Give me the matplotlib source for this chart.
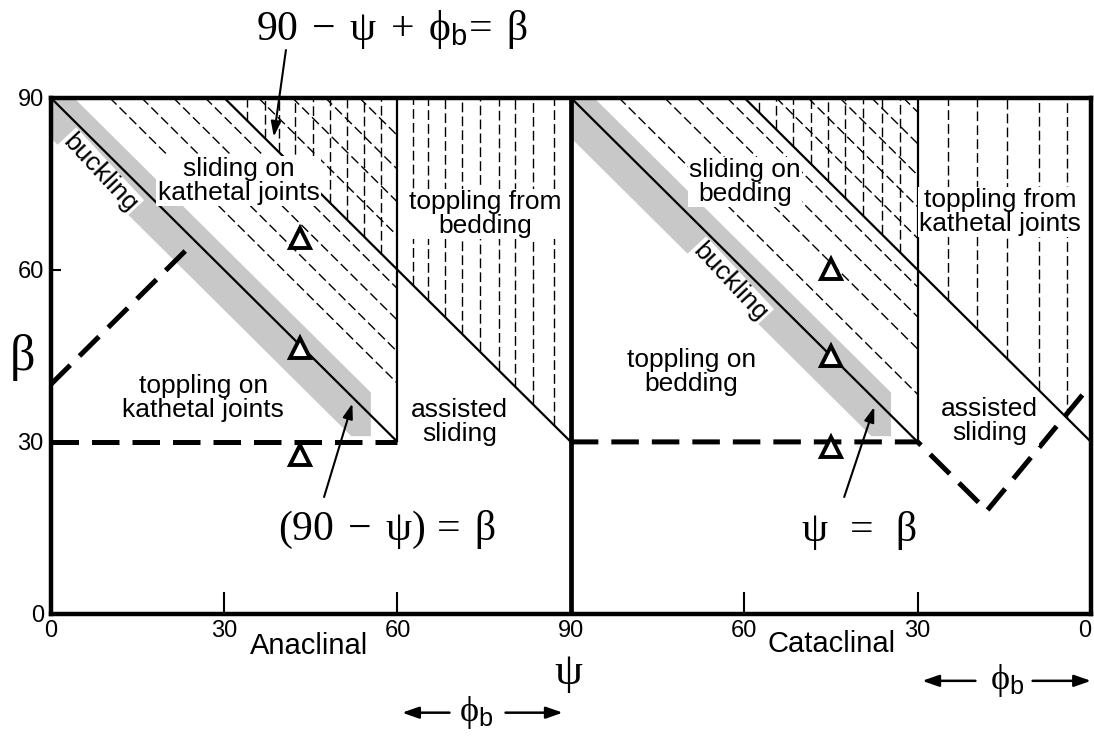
import matplotlib
matplotlib.use('Agg')
import matplotlib.pyplot as plt
from matplotlib.patches import Polygon

plt.rcParams['font.family'] = ['Liberation Sans', 'DejaVu Sans']
plt.rcParams['mathtext.fontset'] = 'custom'
plt.rcParams['mathtext.rm'] = 'Liberation Serif'
plt.rcParams['mathtext.it'] = 'Liberation Serif:italic'
plt.rcParams['mathtext.bf'] = 'Liberation Serif:bold'
plt.rcParams['mathtext.sf'] = 'Liberation Sans'
plt.rcParams['mathtext.default'] = 'rm'

# ---------------- data (angles in degrees) ----------------
PHI_B = 30
x_ticks = [0, 30, 60, 90, 120, 150, 180]
x_ticklabels = ['0', '30', '60', '90', '60', '30', '0']
y_ticks = [0, 30, 60, 90]
y_ticklabels = ['0', '30', '60', '90']

# anaclinal (left) panel, x = psi
ana_buckle_psi = [0, 60]
ana_buckle_beta = [90, 30]
ana_phib_psi = [30, 90]
ana_phib_beta = [90, 30]
ana_limit_psi = [60, 60]
ana_limit_beta = [30, 90]
ana_dash_psi = [0, 24.7]
ana_dash_beta = [40, 64.7]
ana_base_psi = [0, 60]
ana_base_beta = [30, 30]
ana_slide_offsets = [10.2, 15.7, 21.2, 26.7]
ana_cross_offsets = [35.9, 41.8, 47.5, 53.4]
ana_vert_psi = [34, 37, 39.5, 42.3, 45.3, 48.3, 51.2, 54.2, 57.2,
                62.7, 65.2, 68.2, 71.2, 74.2, 77.5, 80.4, 83.4, 87]
ana_band_psi = [0, 0, 4, 55.4, 55.4, 52]
ana_band_beta = [83, 90, 90, 38.6, 31, 31]
ana_tri_psi = [43.2, 43.2, 43.2]
ana_tri_beta = [65.6, 46.3, 27.7]

# cataclinal (right) panel, psi runs 90 -> 0
cat_buckle_psi = [90, 30]
cat_buckle_beta = [90, 30]
cat_phib_psi = [60, 0]
cat_phib_beta = [90, 30]
cat_limit_psi = [30, 30]
cat_limit_beta = [30, 90]
cat_dash_psi = [90, 30, 18, 0]
cat_dash_beta = [30, 30, 18, 40]
cat_slide_offsets = [8.3, 16.2, 21.8, 27.0]
cat_cross_offsets = [35.5, 41.0, 46.5, 52.0, 57.5]
cat_vert_psi = [57.5, 54.5, 51.5, 48.5, 45.5, 42.5, 39.5, 36.2, 33,
                24.8, 19.7, 14.5, 9, 4.2]
cat_band_psi = [90, 90, 86, 34.6, 34.6, 38]
cat_band_beta = [83, 90, 90, 38.6, 31, 31]
cat_tri_psi = [45, 45, 45]
cat_tri_beta = [60.2, 44.9, 29.1]


def cx(psis):
    """cataclinal psi -> shared x axis position"""
    return [180 - p for p in psis]


W, H = 1094, 736
fig = plt.figure(figsize=(W / 100, H / 100), dpi=100)
fig.patch.set_facecolor('white')
L, R, T, B = 50.7, 1091, 97.7, 614
ax = fig.add_axes([L / W, 1 - B / H, (R - L) / W, (B - T) / H])
ax.set_xlim(0, 180)
ax.set_ylim(0, 90)

GREY = '#c8c8c8'
HATCH = dict(color='k', lw=1.0, dashes=(7, 3), zorder=2)
SOLID = dict(color='k', lw=1.6, zorder=3, solid_capstyle='butt')
THICK = dict(color='k', lw=3.6, dashes=(5.5, 2.6), zorder=4, dash_capstyle='butt')

# grey buckling bands
ax.add_patch(Polygon(list(zip(ana_band_psi, ana_band_beta)), closed=True,
                     fc=GREY, ec='none', zorder=1))
ax.add_patch(Polygon(list(zip(cx(cat_band_psi), cat_band_beta)), closed=True,
                     fc=GREY, ec='none', zorder=1))

# anaclinal hatching
for c in ana_slide_offsets + ana_cross_offsets:
    ax.plot([c, 60], [90, 30 + c], **HATCH)
for v in ana_vert_psi:
    ax.plot([v, v], [90 + PHI_B - v, 90], **HATCH)

# cataclinal hatching
for c in cat_slide_offsets + cat_cross_offsets:
    ax.plot(cx([90 - c, 30]), [90, 30 + c], **HATCH)
for v in cat_vert_psi:
    ax.plot(cx([v, v]), [v + PHI_B, 90], **HATCH)

# boundaries
ax.plot(ana_buckle_psi, ana_buckle_beta, **SOLID)
ax.plot(ana_phib_psi, ana_phib_beta, **SOLID)
ax.plot(ana_limit_psi, ana_limit_beta, **SOLID)
ax.plot(cx(cat_buckle_psi), cat_buckle_beta, **SOLID)
ax.plot(cx(cat_phib_psi), cat_phib_beta, **SOLID)
ax.plot(cx(cat_limit_psi), cat_limit_beta, **SOLID)

ax.plot(ana_dash_psi, ana_dash_beta, **THICK)
ax.plot(ana_base_psi, ana_base_beta, **THICK)
ax.plot(cx(cat_dash_psi), cat_dash_beta, **THICK)

ax.axvline(90, color='k', lw=3.4, zorder=4)

# triangles
TRI = dict(ls='none', marker='^', ms=14, mfc='white', mec='k', mew=2.8,
           zorder=6, clip_on=False)
ax.plot(ana_tri_psi, ana_tri_beta, **TRI)
ax.plot(cx(cat_tri_psi), cat_tri_beta, **TRI)

# region labels
LBL = dict(fontsize=19, ha='center', va='center', linespacing=1.0, zorder=5,
           bbox=dict(fc='white', ec='none', pad=1.0))
ax.text(32.5, 75.5, 'sliding on\nkathetal joints', **LBL)
ax.text(75.2, 69.7, 'toppling from\nbedding', **LBL)
ax.text(26.4, 37.7, 'toppling on\nkathetal joints', **LBL)
ax.text(70.7, 33.5, 'assisted\nsliding', **LBL)
ax.text(8.6, 76.9, 'buckling', rotation=-47, **LBL)
ax.text(120.1, 75.3, 'sliding on\nbedding', **LBL)
ax.text(164.3, 70.1, 'toppling from\nkathetal joints', **LBL)
ax.text(110.9, 42.1, 'toppling on\nbedding', **LBL)
ax.text(162.4, 33.7, 'assisted\nsliding', **LBL)
ax.text(117.6, 57.9, 'buckling', rotation=-47, **LBL)

# equations + arrows
ARW = dict(arrowstyle='-|>,head_length=0.9,head_width=0.3', lw=1.5, color='k',
           shrinkA=0, shrinkB=0)
ax.text(58.2, 14.6, r'$(90\;-\;ψ)\,=\;β$', fontsize=30, ha='center', va='center')
ax.annotate('', xy=(52.2, 36.7), xytext=(47.3, 20.4), arrowprops=ARW)
ax.text(139.8, 14.6, r'$ψ\;\;=\;\;β$', fontsize=30, ha='center', va='center')
ax.annotate('', xy=(142.5, 36.1), xytext=(137.3, 20.4), arrowprops=ARW)
ax.text(59.1, 101.9, r'$90\;-\;ψ\;+\;\phi_{\mathsf{b}}\!=\;β$', fontsize=30,
        ha='center', va='center', clip_on=False)
ax.annotate('', xy=(38.6, 83.2), xytext=(40.7, 98.3), arrowprops=ARW,
            annotation_clip=False)

# axis symbols
ax.text(89.6, -10.5, r'$ψ$', fontsize=32, ha='center', va='center', clip_on=False)
ax.text(-5, 44.7, r'$β$', fontsize=36, ha='center', va='center', clip_on=False)
ax.text(44.7, -5.5, 'Anaclinal', fontsize=21, ha='center', va='center')
ax.text(135.1, -5.2, 'Cataclinal', fontsize=21, ha='center', va='center')

# phi_b arrows
ARW2 = dict(arrowstyle='-|>,head_length=1.0,head_width=0.35', lw=1.8, color='k',
            shrinkA=0, shrinkB=0)
for yb, a0, a1, ph, b0, b1 in [(-17.2, 69.0, 60.8, 73.7, 78.7, 88.6),
                               (-11.65, 160.0, 150.8, 165.5, 169.9, 180.0)]:
    ax.annotate('', xy=(a1, yb), xytext=(a0, yb), arrowprops=ARW2, annotation_clip=False)
    ax.annotate('', xy=(b1, yb), xytext=(b0, yb), arrowprops=ARW2, annotation_clip=False)
    ax.text(ph, yb, r'$\phi_{\mathsf{b}}$', fontsize=26, ha='center', va='center')

# ticks / frame
ax.set_xticks(x_ticks)
ax.set_xticklabels(x_ticklabels, fontsize=17)
ax.set_yticks(y_ticks)
ax.set_yticklabels(y_ticklabels, fontsize=17)
ax.tick_params(axis='x', direction='in', length=16, width=1.5, pad=4)
ax.tick_params(axis='y', direction='in', length=7, width=1.5, pad=5)
xl = ax.get_xticklabels()
xl[-1].set_horizontalalignment('right')
for s in ax.spines.values():
    s.set_linewidth(3.2)

fig.savefig('out.png', dpi=100, facecolor='white')
